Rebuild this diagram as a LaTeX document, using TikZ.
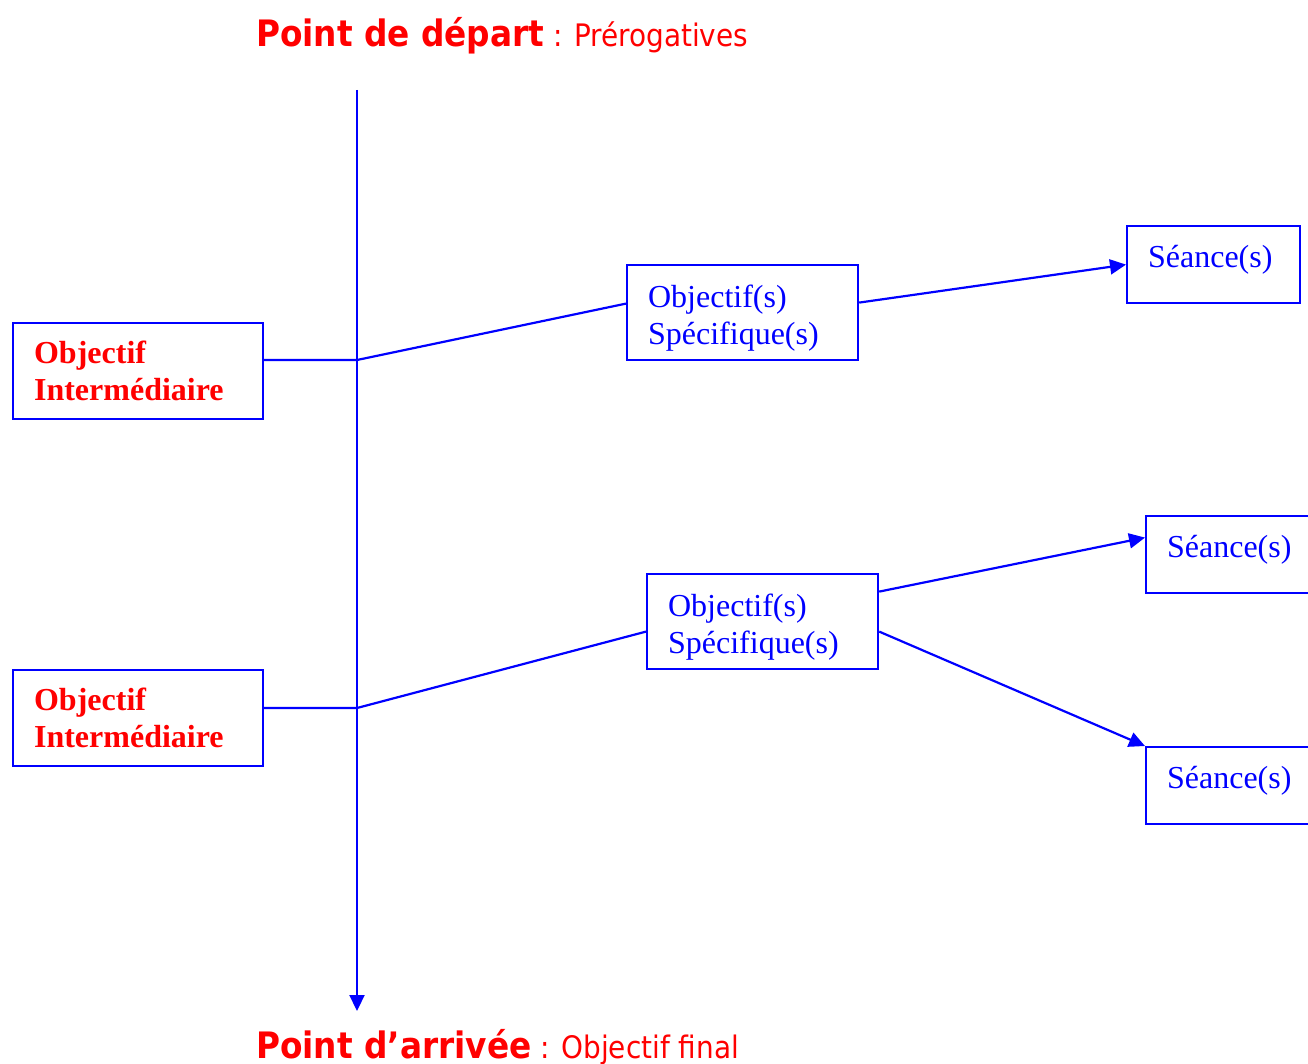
\documentclass[tikz,border=0pt]{standalone}
\usepackage{fontspec}
\setmainfont{Liberation Serif}
\newfontfamily\titlefont{DejaVu Sans Condensed}
\usetikzlibrary{arrows.meta}
\definecolor{pureblue}{RGB}{0,0,255}
\definecolor{purered}{RGB}{255,0,0}
\begin{document}
\begin{tikzpicture}[x=1pt,y=-1pt,
  conn/.style={draw=pureblue,line width=2.2pt},
  arr/.style={conn,-{Triangle[length=16pt,width=15pt]}},
  boxbase/.style={draw=pureblue,line width=2.2pt,inner sep=0pt,anchor=north west,align=left,
     font=\fontsize{32}{37}\selectfont},
  interbox/.style={boxbase,minimum width=250pt,minimum height=96pt,text width=208pt,text=purered,
     font=\fontsize{32}{37}\selectfont\bfseries},
  specbox/.style={boxbase,minimum width=231pt,minimum height=95pt,text width=189pt,text=pureblue,
     execute at begin node={\rule{0pt}{33pt}}},
  seancebox/.style={boxbase,minimum width=173pt,minimum height=77pt,text width=131pt,text=pureblue,
     execute at begin node={\rule[-16pt]{0pt}{16pt}}},
  titlebig/.style={anchor=base west,inner sep=0pt,text=purered},
]
\useasboundingbox (0,0) rectangle (1308,1064);
\clip (0,0) rectangle (1308,1064);

\node[titlebig] (t1) at (256,47) {{\titlefont\fontsize{36.4}{40}\selectfont\bfseries Point de départ}{\titlefont\fontsize{31}{34}\selectfont{} : Prérogatives}};
\node[titlebig] (t2) at (256,1058) {{\titlefont\fontsize{36.4}{40}\selectfont\bfseries Point d’arrivée}{\titlefont\fontsize{31}{34}\selectfont{} : Objectif final}};

\coordinate (top) at (357,90);
\coordinate (bot) at (357,1011);
\coordinate (j1) at (357,360);
\coordinate (j2) at (357,708);

\node[interbox] (oi1) at (12,322) {Objectif\\Intermédiaire};
\node[interbox] (oi2) at (12,669) {Objectif\\Intermédiaire};
\node[specbox] (os1) at (626,264) {Objectif(s)\\Spécifique(s)};
\node[specbox] (os2) at (646,573) {Objectif(s)\\Spécifique(s)};
\node[seancebox] (se1) at (1126,225) {Séance(s)};
\node[seancebox] (se2) at (1145,515) {Séance(s)};
\node[seancebox] (se3) at (1145,746) {Séance(s)};

\draw[arr] (top) -- (bot);
\draw[conn] (j1 -| oi1.east) -- (j1) -- ([yshift=9pt]os1.west);
\draw[conn] (j2 -| oi2.east) -- (j2) -- ([yshift=-10pt]os2.west);
\draw[arr] ([yshift=10pt]os1.east) -- (se1.west);
\draw[arr] ([yshift=30pt]os2.east) -- ([yshift=17pt]se2.west);
\draw[arr] ([yshift=-10pt]os2.east) -- (se3.north west);
\end{tikzpicture}
\end{document}
